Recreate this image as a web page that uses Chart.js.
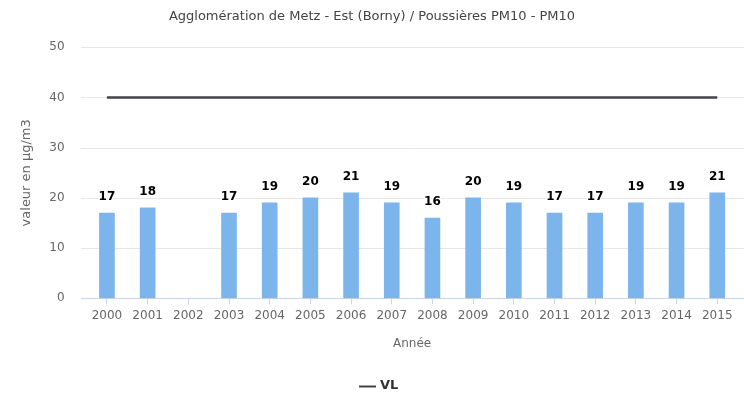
<!DOCTYPE html>
<html>
<head>
<meta charset="utf-8">
<script src="https://cdn.jsdelivr.net/npm/chart.js@4/dist/chart.umd.min.js"></script>
<style>
  html, body { margin: 0; padding: 0; background: #ffffff; }
  #wrap { width: 744px; height: 393px; position: relative; }
</style>
</head>
<body>
<div id="wrap"><canvas id="c" width="744" height="393"></canvas></div>
<script>
// Annual PM10 means, Metz - Est (Borny); 2002 has no measurement
const years = ['2000','2001','2002','2003','2004','2005','2006','2007','2008','2009','2010','2011','2012','2013','2014','2015'];
const pm10 = [17, 18, null, 17, 19, 20, 21, 19, 16, 20, 19, 17, 17, 19, 19, 21];
// Limit value (VL) for the annual mean
const vl = [40, 40, 40, 40, 40, 40, 40, 40, 40, 40, 40, 40, 40, 40, 40, 40];
const yTicks = [0, 10, 20, 30, 40, 50];

const chartTitle = 'Agglomération de Metz - Est (Borny) / Poussières PM10 - PM10';
const yTitle = 'valeur en µg/m3';
const xTitle = 'Année';
const legendLabel = 'VL';

const FONT = '"DejaVu Sans", sans-serif';

// Horizontal grid lines and the x axis line span the full plot frame
const frameGrid = {
  id: 'frameGrid',
  beforeDatasetsDraw(chart) {
    const { ctx, scales: { y } } = chart;
    const x0 = 81, x1 = 744;
    ctx.save();
    ctx.lineWidth = 1;
    yTicks.forEach(v => {
      const py = Math.round(y.getPixelForValue(v)) + 0.5;
      ctx.strokeStyle = v === 0 ? '#ccd6eb' : '#e6e6e6';
      ctx.beginPath();
      ctx.moveTo(x0, py);
      ctx.lineTo(x1, py);
      ctx.stroke();
    });
    ctx.restore();
  }
};

// Value labels above each bar
const barLabels = {
  id: 'barLabels',
  afterDatasetsDraw(chart) {
    const { ctx } = chart;
    const meta = chart.getDatasetMeta(0);
    ctx.save();
    ctx.font = 'bold 12px ' + FONT;
    ctx.textAlign = 'center';
    ctx.textBaseline = 'alphabetic';
    ctx.lineJoin = 'round';
    meta.data.forEach((bar, i) => {
      const v = pm10[i];
      if (v === null) return;
      const tx = bar.x, ty = bar.y - 13;
      ctx.strokeStyle = '#ffffff';
      ctx.lineWidth = 3;
      ctx.strokeText(String(v), tx, ty);
      ctx.fillStyle = '#000000';
      ctx.fillText(String(v), tx, ty);
    });
    ctx.restore();
  }
};

// Chart title and the bottom legend entry
const headerLegend = {
  id: 'headerLegend',
  afterDraw(chart) {
    const { ctx } = chart;
    ctx.save();
    ctx.font = '13px ' + FONT;
    ctx.fillStyle = '#444444';
    ctx.textAlign = 'center';
    ctx.textBaseline = 'middle';
    ctx.fillText(chartTitle, 372, 17);

    const ly = 386;
    ctx.strokeStyle = '#434348';
    ctx.lineWidth = 2;
    ctx.beginPath();
    ctx.moveTo(359, ly + 0.5);
    ctx.lineTo(376, ly + 0.5);
    ctx.stroke();
    ctx.font = 'bold 13px ' + FONT;
    ctx.fillStyle = '#333333';
    ctx.textAlign = 'left';
    ctx.fillText(legendLabel, 380, ly);
    ctx.restore();
  }
};

new Chart(document.getElementById('c'), {
  data: {
    labels: years,
    datasets: [
      {
        type: 'bar',
        label: 'PM10',
        data: pm10,
        backgroundColor: '#7cb5ec',
        borderWidth: 0,
        barThickness: 15,
        order: 2
      },
      {
        type: 'line',
        label: legendLabel,
        data: vl,
        borderColor: '#434348',
        borderWidth: 2.5,
        pointRadius: 0,
        pointHoverRadius: 0,
        fill: false,
        tension: 0,
        order: 1
      }
    ]
  },
  options: {
    responsive: false,
    animation: false,
    devicePixelRatio: 1,
    layout: { padding: { left: 0, right: 6.4, top: 47.3, bottom: 34.7 } },
    plugins: {
      legend: { display: false },
      title: { display: false },
      tooltip: { enabled: false }
    },
    scales: {
      x: {
        offset: true,
        border: { display: false },
        grid: {
          offset: false,
          drawOnChartArea: false,
          drawTicks: true,
          tickLength: 6,
          color: '#ccd6eb'
        },
        ticks: {
          color: '#666666',
          font: { family: FONT, size: 12 },
          padding: 4,
          maxRotation: 0,
          autoSkip: false
        },
        title: {
          display: true,
          text: xTitle,
          color: '#666666',
          font: { family: FONT, size: 12 },
          padding: { top: 0, bottom: 7 }
        },
        afterFit(scale) { scale.height = 60; }
      },
      y: {
        min: 0,
        max: 50,
        border: { display: false },
        grid: { display: false, drawTicks: false },
        afterBuildTicks(scale) { scale.ticks = yTicks.map(v => ({ value: v })); },
        ticks: {
          color: '#666666',
          font: { family: FONT, size: 12 },
          padding: 22
        },
        title: {
          display: true,
          text: yTitle,
          color: '#666666',
          font: { family: FONT, size: 13 },
          padding: { top: 19, bottom: 0 }
        },
        afterFit(scale) { scale.width = 86.6; }
      }
    }
  },
  plugins: [frameGrid, barLabels, headerLegend]
});
</script>
</body>
</html>
